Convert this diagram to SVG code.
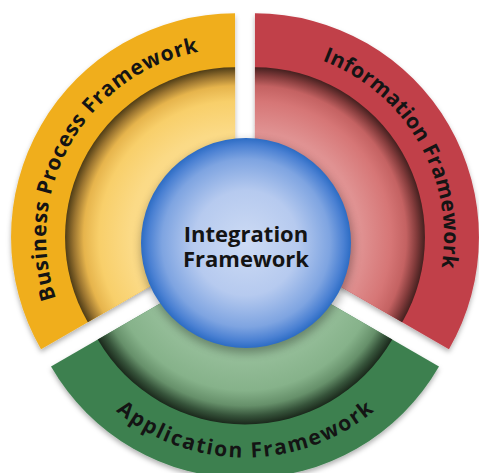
<svg xmlns="http://www.w3.org/2000/svg" width="479" height="473" viewBox="0 0 479 473">
  <defs>
    <style>
      .lbl { font-family: "Open Sans", "Liberation Sans", Arial, sans-serif; font-weight: 700; fill: #141414; }
      .arc { font-size: 21px; }
      .ctr { font-size: 22px; text-anchor: middle; }
    </style>
    <filter id="drop" x="-10%" y="-10%" width="120%" height="120%">
      <feDropShadow dx="0" dy="3" stdDeviation="2.5" flood-color="#000" flood-opacity="0.3"/>
    </filter>
    <filter id="blur" x="-20%" y="-20%" width="140%" height="140%">
      <feGaussianBlur stdDeviation="5"/>
    </filter>
    <radialGradient id="gY" gradientUnits="userSpaceOnUse" cx="235.04" cy="237.25" r="170">
      <stop offset="0" stop-color="#fde2a0"/>
      <stop offset="0.62" stop-color="#fbda86"/>
      <stop offset="0.8" stop-color="#f8cf6a"/>
      <stop offset="0.89" stop-color="#e6b44c"/>
      <stop offset="0.95" stop-color="#9a7430"/>
      <stop offset="1" stop-color="#4e3c16"/>
    </radialGradient>
    <radialGradient id="gR" gradientUnits="userSpaceOnUse" cx="254.96" cy="237.25" r="170">
      <stop offset="0" stop-color="#e8a2a2"/>
      <stop offset="0.62" stop-color="#e09292"/>
      <stop offset="0.8" stop-color="#d67676"/>
      <stop offset="0.89" stop-color="#c46262"/>
      <stop offset="0.95" stop-color="#843c3c"/>
      <stop offset="1" stop-color="#44201f"/>
    </radialGradient>
    <radialGradient id="gG" gradientUnits="userSpaceOnUse" cx="245" cy="254.5" r="170">
      <stop offset="0" stop-color="#a2c6a4"/>
      <stop offset="0.62" stop-color="#94bd98"/>
      <stop offset="0.8" stop-color="#86b28a"/>
      <stop offset="0.89" stop-color="#66906a"/>
      <stop offset="0.95" stop-color="#36533a"/>
      <stop offset="1" stop-color="#1a281b"/>
    </radialGradient>
    <radialGradient id="gB" cx="0.5" cy="0.5" r="0.5">
      <stop offset="0" stop-color="#cddbf4"/>
      <stop offset="0.5" stop-color="#b6caef"/>
      <stop offset="0.8" stop-color="#7ea4e1"/>
      <stop offset="0.93" stop-color="#4b81d3"/>
      <stop offset="1" stop-color="#2c6cc4"/>
    </radialGradient>
    <path id="tY" d="M 63.75 317.12 A 189 189 0 0 1 218.57 48.97"/>
    <path id="tR" d="M 271.43 48.97 A 189 189 0 0 1 426.25 317.12"/>
    <path id="tG" d="M 78.71 370.93 A 203 203 0 0 0 411.29 370.93"/>
  </defs>

  <rect width="479" height="473" fill="#ffffff"/>

  <g id="business-process-framework">
    <path d="M 235.04 237.25 L 235.04 13.25 A 224 224 0 0 0 41.05 349.25 Z" fill="#f0ae1e" filter="url(#drop)"/>
    <path d="M 235.04 237.25 L 235.04 67.25 A 170 170 0 0 0 87.82 322.25 Z" fill="url(#gY)"/>
    <text class="lbl arc"><textPath href="#tY" startOffset="50%" text-anchor="middle" textLength="322" lengthAdjust="spacing">Business Process Framework</textPath></text>
  </g>

  <g id="information-framework">
    <path d="M 254.96 237.25 L 254.96 13.25 A 224 224 0 0 1 448.95 349.25 Z" fill="#c1404a" filter="url(#drop)"/>
    <path d="M 254.96 237.25 L 254.96 67.25 A 170 170 0 0 1 402.18 322.25 Z" fill="url(#gR)"/>
    <text class="lbl arc"><textPath href="#tR" startOffset="50%" text-anchor="middle" textLength="258" lengthAdjust="spacing">Information Framework</textPath></text>
  </g>

  <g id="application-framework">
    <path d="M 245 254.5 L 51.01 366.5 A 224 224 0 0 0 438.99 366.5 Z" fill="#3e8050" filter="url(#drop)"/>
    <path d="M 245 254.5 L 97.78 339.5 A 170 170 0 0 0 392.22 339.5 Z" fill="url(#gG)"/>
    <text class="lbl arc"><textPath href="#tG" startOffset="50%" text-anchor="middle" textLength="280" lengthAdjust="spacing">Application Framework</textPath></text>
  </g>

  <g id="connectors"></g>

  <g id="integration-framework">
    <circle cx="247" cy="247" r="106" fill="#000" opacity="0.3" filter="url(#blur)"/>
    <circle cx="246" cy="243" r="105" fill="url(#gB)"/>
    <text class="lbl ctr" x="246" y="242"><tspan x="246" y="242">Integration</tspan><tspan x="246" y="267">Framework</tspan></text>
  </g>
</svg>
